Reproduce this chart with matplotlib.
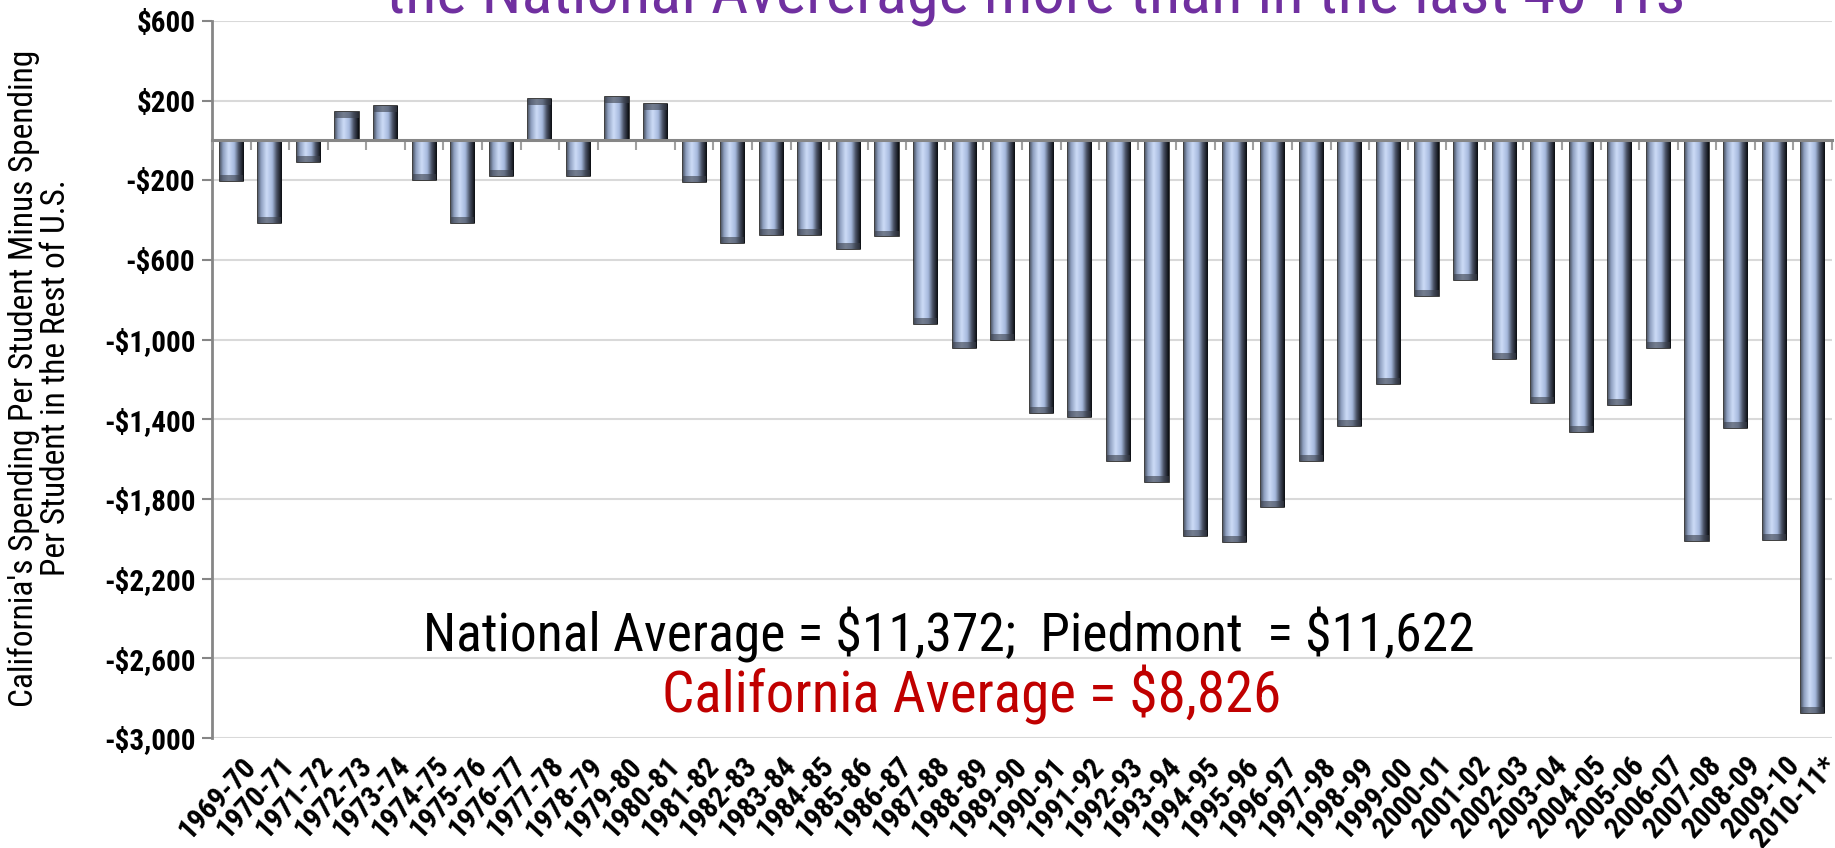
import os
import numpy as np
import matplotlib
matplotlib.use('Agg')
from matplotlib import pyplot as plt
from matplotlib import font_manager as fm
from matplotlib import transforms
from matplotlib.colors import LinearSegmentedColormap
from matplotlib.ticker import FuncFormatter, FixedLocator

# school years and California minus rest-of-U.S. spending per student ($)
years = ['1969-70', '1970-71', '1971-72', '1972-73', '1973-74', '1974-75', '1975-76',
         '1976-77', '1977-78', '1978-79', '1979-80', '1980-81', '1981-82', '1982-83',
         '1983-84', '1984-85', '1985-86', '1986-87', '1987-88', '1988-89', '1989-90',
         '1990-91', '1991-92', '1992-93', '1993-94', '1994-95', '1995-96', '1996-97',
         '1997-98', '1998-99', '1999-00', '2000-01', '2001-02', '2002-03', '2003-04',
         '2004-05', '2005-06', '2006-07', '2007-08', '2008-09', '2009-10', '2010-11*']
gap = [-205, -415, -110, 145, 175, -200, -415,
       -180, 206, -180, 216, 184, -208, -515,
       -474, -474, -546, -482, -920, -1044, -1004,
       -1368, -1390, -1608, -1713, -1985, -2017, -1840,
       -1608, -1433, -1223, -783, -701, -1098, -1317,
       -1463, -1327, -1044, -2012, -1444, -2004, -2872]
y_ticks = [600, 200, -200, -600, -1000, -1400, -1800, -2200, -2600, -3000]

title = 'the National Avererage more than in the last 40 Yrs'
note_1 = 'National Average = $11,372;  Piedmont  = $11,622'
note_2 = 'California Average = $8,826'
y_title = "California's Spending Per Student Minus Spending\nPer Student in the Rest of U.S."

W, H = 1835, 848
NOT_PLAIN = ['italic', 'oblique', 'light', 'thin', 'medium', 'black', 'semi', 'extra']


def find_font(keys, bold):
    for key in keys:
        for f in fm.fontManager.ttflist:
            name = os.path.basename(f.fname).lower()
            if key not in name or any(k in name for k in NOT_PLAIN):
                continue
            if ('bold' in name) == bold:
                return f.fname
    return None


narrow_keys = ['liberationsansnarrow', 'arialn', 'robotocondensed',
               'dejavusanscondensed', 'opensans_condensed', 'opensanscondensed']
narrow_reg = find_font(narrow_keys, False)
narrow_bold = find_font(narrow_keys, True)


def font(bold=False, size=12, narrow=True):
    path = (narrow_bold if bold else narrow_reg) if narrow else None
    if path:
        return fm.FontProperties(fname=path, size=size)
    return fm.FontProperties(family='Liberation Sans',
                             weight='bold' if bold else 'normal', size=size)


def money(v, pos=None):
    if v < 0:
        return f'-${-v:,.0f}'
    return f'${v:,.0f}'


fig = plt.figure(figsize=(W / 100, H / 100), dpi=100)
ax = fig.add_axes([212 / W, 1 - 738 / H, (1832 - 212) / W, (738 - 21) / H])

x = np.arange(len(years))
bars = ax.bar(x, gap, width=0.6, color='#b4c6e7', edgecolor='#1e1e1e',
              linewidth=1.2, zorder=3)

# glassy horizontal shading inside each bar
shade = LinearSegmentedColormap.from_list('bevel', [
    (0.0, '#525b6c'), (0.12, '#8e9fc0'), (0.36, '#cddcf7'),
    (0.6, '#a6b9dd'), (0.78, '#4c5569'), (1.0, '#0a0c10')])
grad = np.linspace(0, 1, 64).reshape(1, -1)
for b in bars:
    x0, y0, w, h = b.get_x(), b.get_y(), b.get_width(), b.get_height()
    y_lo, y_hi = min(y0, y0 + h), max(y0, y0 + h)
    im = ax.imshow(grad, cmap=shade, extent=(x0, x0 + w, y_lo, y_hi),
                   aspect='auto', zorder=3.5, interpolation='bicubic')
    im.set_clip_path(b)
    # darker end cap
    cap = 30 if h < 0 else -30
    ax.add_patch(plt.Rectangle((x0, y0 + h), w, cap, facecolor='#3a3f4a',
                               edgecolor='none', alpha=0.6, zorder=3.6))

ax.set_xlim(-0.5, len(years) - 0.5)
ax.set_ylim(-3000, 600)

ax.yaxis.set_major_locator(FixedLocator(y_ticks))
ax.yaxis.set_major_formatter(FuncFormatter(money))
ax.grid(axis='y', color='#d9d9d9', linewidth=1.5, zorder=0)
ax.set_axisbelow(True)

for s in ['top', 'right', 'bottom']:
    ax.spines[s].set_visible(False)
ax.spines['left'].set_color('#868686')
ax.spines['left'].set_linewidth(2)
ax.tick_params(axis='y', length=7, width=1.5, color='#868686', pad=5)
for t in ax.get_yticklabels():
    t.set_fontproperties(font(bold=True, size=21))

ax.set_xticks(x)
ax.set_xticklabels(years, rotation=47, ha='right', rotation_mode='anchor')
ax.tick_params(axis='x', length=0, pad=10)
shift = transforms.ScaledTranslation(0.10, 0, fig.dpi_scale_trans)
for t in ax.get_xticklabels():
    t.set_fontproperties(font(bold=True, size=21))
    t.set_transform(t.get_transform() + shift)

# category axis drawn at zero
zero = ax.secondary_xaxis(0, transform=ax.transData)
zero.spines['bottom'].set_color('#868686')
zero.spines['bottom'].set_linewidth(2.2)
zero.set_xticks(np.arange(len(years) + 1) - 0.5)
zero.set_xticklabels([])
zero.tick_params(axis='x', length=7, width=1.5, color='#a0a0a0')
zero.set_zorder(5)

fig.text(40 / W, 1 - 378 / H, y_title, rotation=90, ha='center', va='center',
         fontproperties=font(size=24), linespacing=1.0)

fig.text(1036 / W, 1 - 13 / H, title, ha='center', va='baseline',
         color='#7030a0', fontproperties=font(size=46.5), parse_math=False)

fig.text(949 / W, 1 - 635 / H, note_1, ha='center', va='center',
         fontproperties=font(size=38.5), color='black', parse_math=False)
fig.text(972 / W, 1 - 695 / H, note_2, ha='center', va='center',
         fontproperties=font(size=41), color='#c00000', parse_math=False)

fig.savefig('out.png', dpi=100)
